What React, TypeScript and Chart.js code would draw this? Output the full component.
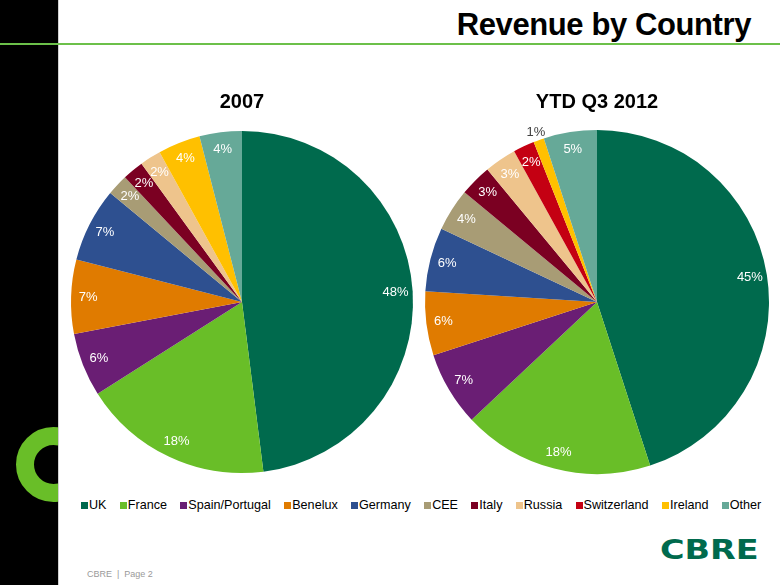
import React, { useEffect, useRef } from "react";
import { Chart, registerables } from "chart.js";

Chart.register(...registerables);

const countries = ["UK", "France", "Spain/Portugal", "Benelux", "Germany", "CEE", "Italy", "Russia", "Switzerland", "Ireland", "Other"];
const values2007 = [48, 18, 6, 7, 7, 2, 2, 2, 0, 4, 4];
const values2012 = [45, 18, 7, 6, 6, 4, 3, 3, 2, 1, 5];
const colors = ["#006A4D", "#69BE28", "#6A1E74", "#E07B00", "#2E5090", "#A89C75", "#7B0022", "#EEC48C", "#C40012", "#FFC000", "#66A998"];
const pageTitle = "Revenue by Country";
const title2007 = "2007";
const title2012 = "YTD Q3 2012";

const labelPlugin = {
  id: "pctLabels",
  afterDatasetsDraw(chart: any) {
    const ctx = chart.ctx;
    const meta = chart.getDatasetMeta(0);
    const data = chart.data.datasets[0].data as number[];
    ctx.save();
    ctx.font = "13px Arial, 'Liberation Sans', sans-serif";
    ctx.textAlign = "center";
    ctx.textBaseline = "middle";
    meta.data.forEach((arc: any, i: number) => {
      const v = data[i];
      if (!v) return;
      const { x, y, startAngle, endAngle, outerRadius } = arc.getProps(["x", "y", "startAngle", "endAngle", "outerRadius"], true);
      const mid = (startAngle + endAngle) / 2;
      const outside = v < 1.5;
      const r = outside ? outerRadius * 1.05 : outerRadius * 0.9;
      ctx.fillStyle = outside ? "#404040" : "#FFFFFF";
      ctx.fillText(v + "%", x + Math.cos(mid) * r, y + Math.sin(mid) * r);
    });
    ctx.restore();
  },
};

function PieChart({ values, left, top, size, pad }: { values: number[]; left: number; top: number; size: number; pad: number }) {
  const ref = useRef<HTMLCanvasElement | null>(null);
  useEffect(() => {
    if (!ref.current) return;
    const chart = new Chart(ref.current, {
      type: "pie",
      data: {
        labels: countries,
        datasets: [{ data: values, backgroundColor: colors, borderWidth: 0 }],
      },
      options: {
        responsive: false,
        animation: false,
        devicePixelRatio: 1,
        layout: { padding: pad },
        plugins: { legend: { display: false }, tooltip: { enabled: false } },
      },
      plugins: [labelPlugin],
    });
    return () => chart.destroy();
  }, []);
  return <canvas ref={ref} width={size} height={size} style={{ position: "absolute", left, top, width: size, height: size }} />;
}

export default function App() {
  const font = "Arial, 'Liberation Sans', sans-serif";
  return (
    <div style={{ position: "absolute", left: 0, top: 0, width: 780, height: 585, overflow: "hidden", background: "#fff", fontFamily: font }}>
      <div style={{ position: "absolute", left: 0, top: 0, width: 58, height: 585, background: "#000" }} />
      <div style={{ position: "absolute", left: 0, top: 0, width: 58, height: 585, overflow: "hidden" }}>
        <div style={{ position: "absolute", left: 54 - 38, top: 465 - 38, width: 76 - 37, height: 76 - 37, borderRadius: "50%", border: "18.5px solid #69BE28" }} />
      </div>
      <div style={{ position: "absolute", left: 58, top: 0, width: 1, height: 585, background: "#d0d0d0" }} />
      <div style={{ position: "absolute", left: 0, top: 43, width: 780, height: 2, background: "#6CC04A" }} />
      <div style={{ position: "absolute", right: 29, top: 7, fontSize: 31, fontWeight: "bold", color: "#000", whiteSpace: "nowrap", letterSpacing: -0.4 }}>{pageTitle}</div>
      <PieChart values={values2007} left={52} top={112} size={380} pad={19} />
      <PieChart values={values2012} left={407} top={112} size={380} pad={18} />
      <div style={{ position: "absolute", left: 142, width: 200, top: 90, textAlign: "center", fontSize: 20, fontWeight: "bold" }}>{title2007}</div>
      <div style={{ position: "absolute", left: 497, width: 200, top: 90, textAlign: "center", fontSize: 20, fontWeight: "bold" }}>{title2012}</div>
      <div style={{ position: "absolute", left: 81, top: 498, display: "flex", alignItems: "center", fontSize: 12.6, whiteSpace: "nowrap" }}>
        {countries.map((c, i) => (
          <div key={c} style={{ display: "flex", alignItems: "center", marginRight: 13.3 }}>
            <span style={{ display: "inline-block", width: 7, height: 7, background: colors[i], marginRight: 1 }} />
            <span>{c}</span>
          </div>
        ))}
      </div>
      <div style={{ position: "absolute", left: 87, top: 569, fontSize: 9, color: "#9a9a9a" }}>CBRE&nbsp; |&nbsp; Page 2</div>
      <div style={{ position: "absolute", left: 660, top: 534, fontSize: 27, fontWeight: "bold", color: "#006A4D", fontFamily: "'DejaVu Sans', sans-serif", transform: "scaleX(1.24)", transformOrigin: "left center", whiteSpace: "nowrap" }}>CBRE</div>
    </div>
  );
}
